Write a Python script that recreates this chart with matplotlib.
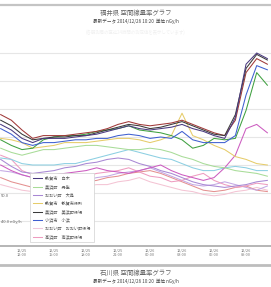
import matplotlib
matplotlib.use("Agg")
import matplotlib.pyplot as plt
from matplotlib.lines import Line2D
import numpy as np

plt.rcParams['font.family'] = ['Noto Sans CJK JP', 'DejaVu Sans']

# hours relative to first tick
hours = list(range(-2, 24))
tick_hours = [0, 3, 6, 9, 12, 15, 18, 21]
tick_labels = ["12/25\n12:00", "12/25\n15:00", "12/25\n18:00", "12/25\n21:00",
               "12/26\n00:00", "12/26\n03:00", "12/26\n06:00", "12/26\n09:00"]
grid_values = [40, 50, 60, 70, 80, 90, 100]

# dose rate values (nGy/h)
s_red = [78, 76, 72.5, 69.5, 70.5, 70.5, 70.5, 71, 71.5, 72, 73, 74.5, 75.5, 74.5, 74, 74.5, 75, 76, 74.5, 73, 71.5, 70.5, 76, 93, 98, 96]
s_black = [76, 74, 71, 69, 69.5, 70, 70, 70.5, 70.5, 71.5, 72.5, 73.5, 74.5, 74, 73, 73.5, 74.5, 75.5, 74, 72.5, 71, 70.5, 78, 94.5, 99.5, 97.5]
s_navy = [74.5, 72.5, 69.5, 68, 69.5, 69.5, 69.5, 70, 70.5, 71, 72, 73, 74, 73, 72.5, 73, 73.5, 74.5, 73, 72, 70.5, 69.5, 77, 96, 100, 98]
s_blue = [73, 71, 68, 67, 68, 68, 68.5, 69, 69, 69.5, 69.5, 70.5, 71, 70.5, 69.5, 70, 69.5, 72, 69, 68, 68, 68, 70.5, 85, 95.5, 94]
s_green = [69, 67, 65.5, 66, 69, 70, 70.5, 70.5, 71, 72, 72.5, 73, 74, 72.5, 72, 71.5, 70.5, 69, 66, 67, 69.5, 69, 69.5, 79.5, 93, 88.5]
s_lime = [66, 64.5, 63.5, 64.5, 65.5, 65.5, 66, 66.5, 67, 67, 66.5, 66, 65.5, 65.5, 66, 65.5, 64.5, 63, 62, 60.5, 59.5, 59, 58, 57.5, 57, 56]
s_yellow = [69.5, 69, 68, 66, 66.5, 67, 68, 68, 68, 68.5, 69, 69.5, 69.5, 69, 68, 69, 70.5, 78.5, 70.5, 69, 67, 65.5, 63, 62, 60.5, 60]
s_cyan = [62.5, 62, 60.5, 60, 60, 60, 60.5, 60.5, 61.5, 62.5, 63.5, 64.5, 65.5, 64.5, 63.5, 62.5, 62, 60.5, 59, 58, 58, 59, 59.5, 59, 58, 58]
s_magenta = [60, 58, 56.5, 55.5, 56, 56.5, 57, 57.5, 58, 59, 58, 57.5, 57, 58, 59, 60, 58, 56.5, 55.5, 54.5, 55.5, 59, 63.5, 73, 74.5, 71.5]
s_pink = [63.5, 62, 58, 56.5, 54.5, 54, 54.5, 55.5, 56, 57, 57.5, 58, 59, 57.5, 56, 55.5, 54, 54.5, 56, 57, 54.5, 53, 52, 52.5, 53.5, 53]
s_lavender = [58, 57.5, 56.5, 55.5, 54.5, 54, 53, 53.5, 54.5, 55.5, 56, 57, 57.5, 58, 59, 57.5, 56, 54.5, 53, 52.5, 53, 54, 53, 52, 51, 52.5]
s_salmon = [55.5, 54, 53, 52, 51, 52, 52.5, 53, 54, 54.5, 55.5, 56, 57, 57.5, 58, 57, 55.5, 54, 52.5, 51, 50.5, 51, 52, 52.5, 51, 50.5]
s_lightpink = [53, 52, 51, 50.5, 49.5, 50, 51, 52, 52.5, 53, 53, 54, 54.5, 55.5, 54, 53, 52, 51, 50.5, 49.5, 49, 49.5, 50.5, 51, 52, 51]
s_purple = [62, 59.5, 57.5, 57, 57.5, 58, 59, 59.5, 60.5, 61, 62, 62.5, 62, 60.5, 59.5, 58, 57, 55.5, 54, 53, 52.5, 52, 52.5, 53, 54, 54.5]

series = [
    (s_lightpink, '#f4c4d4', None),
    (s_salmon, '#e49090', None),
    (s_lavender, '#c4a8e4', None),
    (s_pink, '#ee9cc0', "高浜町　高浜町役場"),
    (s_purple, '#a888d4', "おおい町　大島"),
    (s_cyan, '#8ccfe2', None),
    (s_magenta, '#cc5cc0', None),
    (s_lime, '#a8dc98', "美浜町　丹生"),
    (s_yellow, '#e6cc6a', "敦賀市　敦賀市役所"),
    (s_green, '#3fa040', None),
    (s_blue, '#3f5fd0', "小浜市　小浜"),
    (s_red, '#a03838', None),
    (s_black, '#3a3a3a', "美浜町　美浜町役場"),
    (s_navy, '#4a3a80', "敦賀市　白木"),
]
legend_order = ["敦賀市　白木", "美浜町　丹生", "おおい町　大島", "敦賀市　敦賀市役所",
                "美浜町　美浜町役場", "小浜市　小浜", "おおい町　おおい町役場", "高浜町　高浜町役場"]

W, H = 271, 287
fig = plt.figure(figsize=(W / 100, H / 100), dpi=100)
fig.patch.set_facecolor('white')

def fy(py):
    return 1 - py / H

ax_top, ax_bot = 35, 246
ax = fig.add_axes([0, fy(ax_bot), 1, (ax_bot - ax_top) / H])
ax.set_xlim(-2.0625, 23.34)
ax.set_ylim(31.07, 106.43)

handles = {}
for vals, col, lab in series:
    ln, = ax.plot(hours, vals, color=col, lw=0.75, solid_joinstyle='round')
    if lab:
        handles[lab] = ln
# extra legend-only entry
handles["おおい町　おおい町役場"] = Line2D([], [], color='#f0c8dc', lw=0.75)

ax.set_yticks(grid_values)
ax.yaxis.grid(True, color='#e6e6e6', lw=0.8)
ax.set_axisbelow(True)
ax.tick_params(axis='y', left=False, labelleft=False)
ax.set_xticks(tick_hours)
ax.set_xticklabels(tick_labels, fontsize=2.8, color='#777777', linespacing=1.1)
ax.tick_params(axis='x', length=0, pad=2)
for s in ['top', 'left', 'right']:
    ax.spines[s].set_visible(False)
ax.spines['bottom'].set_color('#b0b0b0')
ax.spines['bottom'].set_linewidth(1.3)
ax.spines['bottom'].set_linestyle((0, (2, 1)))

leg = ax.legend([handles[k] for k in legend_order], legend_order,
                loc='lower left', bbox_to_anchor=(30 / W, (ax_bot - 242) / (ax_bot - ax_top)),
                borderaxespad=0, fontsize=3.0, frameon=True, fancybox=False,
                labelspacing=0.85, handlelength=2.2, handletextpad=0.8,
                borderpad=0.7, edgecolor='#d0d0d0', framealpha=1)
leg.get_frame().set_linewidth(0.5)
for t in leg.get_texts():
    t.set_color('#555555')

ax.text(0.004, (ax_bot - 196) / (ax_bot - ax_top), "50.0", transform=ax.transAxes,
        fontsize=3.0, color='#666666', ha='left', va='center')
ax.text(0.004, (ax_bot - 222) / (ax_bot - ax_top), "40.0 nGy/h", transform=ax.transAxes,
        fontsize=3.0, color='#666666', ha='left', va='center')

# header / footer decorations
fig.add_artist(Line2D([0, 1], [fy(5)] * 2, transform=fig.transFigure, color='#c4c4c4', lw=1.6))
fig.text(0.5, fy(12.5), "福井県 空間線量率グラフ", ha='center', va='center', fontsize=4.6, color='#666666')
fig.text(0.5, fy(21), "最新データ 2014/12/26 10:20  単位 nGy/h", ha='center', va='center', fontsize=3.3, color='#444444')
fig.text(0.5, fy(32), "(各観測局の直近24時間の測定値を表示しています)", ha='center', va='center', fontsize=3.2, color='#f0f0f0')

fig.add_artist(Line2D([0, 1], [fy(264.5)] * 2, transform=fig.transFigure, color='#bdbdbd', lw=2.0))
fig.text(0.5, fy(272.5), "石川県 空間線量率グラフ", ha='center', va='center', fontsize=4.6, color='#666666')
fig.text(0.5, fy(281), "最新データ 2014/12/26 10:20  単位 nGy/h", ha='center', va='center', fontsize=3.3, color='#444444')

fig.savefig("out.png", dpi=100, facecolor='white')
